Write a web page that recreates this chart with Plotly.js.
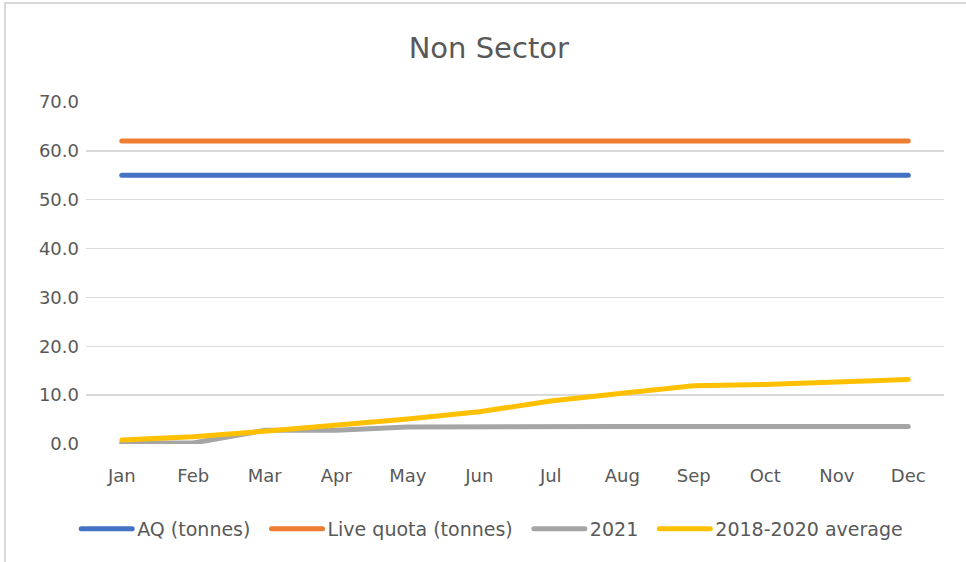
<!DOCTYPE html>
<html>
<head>
<meta charset="utf-8">
<script src="https://cdn.plot.ly/plotly-3.0.1.min.js"></script>
<style>
html,body{margin:0;padding:0;background:#fff;}
#wrap{position:relative;width:966px;height:562px;}
#chart{width:966px;height:562px;}
#frame{position:absolute;left:4px;top:2px;width:962px;height:560px;border-top:2px solid #d9d9d9;border-left:2px solid #d9d9d9;pointer-events:none;box-sizing:border-box;}
</style>
</head>
<body>
<div id="wrap"><div id="chart"></div><div id="frame"></div></div>
<script>
const months = ['Jan','Feb','Mar','Apr','May','Jun','Jul','Aug','Sep','Oct','Nov','Dec'];
const aq = [55,55,55,55,55,55,55,55,55,55,55,55];
const liveQuota = [62,62,62,62,62,62,62,62,62,62,62,62];
const y2021 = [0.2,0.2,2.8,2.8,3.5,3.6,3.6,3.6,3.6,3.6,3.6,3.6];
const avg2018_2020 = [0.8,1.5,2.6,3.8,5.1,6.6,8.8,10.4,11.9,12.2,12.6,13.2];
const yTicks = [0,10,20,30,40,50,60,70];
const yTickText = yTicks.map(v => v.toFixed(1));

const font = 'DejaVu Sans, Liberation Sans, sans-serif';
const pad = '\u00a0\u00a0';
function tr(name, y, color){
  return {x: months, y: y, name: name, type:'scatter', mode:'lines',
    line:{color: color, width: 5}};
}
const data = [
  tr('AQ (tonnes)' + pad, aq, '#4472c4'),
  tr('Live quota (tonnes)' + pad, liveQuota, '#ed7d31'),
  tr('2021' + pad, y2021, '#a5a5a5'),
  tr('2018-2020 average', avg2018_2020, '#ffc000')
];
const layout = {
  width: 966, height: 562,
  margin: {l: 86, r: 22, t: 102, b: 118},
  paper_bgcolor: '#fff', plot_bgcolor: '#fff',
  font: {family: font, color: '#595959', size: 18},
  title: {text: 'Non Sector', x: 0.506, xanchor: 'center', y: 0.915, yanchor: 'middle',
    font: {family: font, size: 29, color: '#595959'}},
  xaxis: {type: 'category', range: [-0.5, 11.5], showgrid: false, zeroline: false,
    showline: false, ticks: '', ticklabelstandoff: 19, tickfont: {size: 18}},
  yaxis: {range: [0, 70], tickvals: yTicks, ticktext: yTickText, showgrid: true,
    gridcolor: '#d9d9d9', gridwidth: 1.5, zeroline: false, showline: false, ticks: '',
    ticklabelstandoff: 6, tickfont: {size: 18}},
  showlegend: true,
  legend: {orientation: 'h', x: 0.474, xanchor: 'center', y: -0.2485, yanchor: 'middle',
    font: {size: 19}, itemwidth: 50, traceorder: 'normal'}
};
Plotly.newPlot('chart', data, layout, {staticPlot: true}).then(function(gd){
  gd.querySelectorAll('.legendlines path').forEach(function(p){
    p.setAttribute('d', 'M4,0h51');
    p.style.strokeLinecap = 'round';
  });
  gd.querySelectorAll('.scatterlayer path.js-line').forEach(function(p){
    p.style.strokeLinecap = 'round';
  });
});
</script>
</body>
</html>
